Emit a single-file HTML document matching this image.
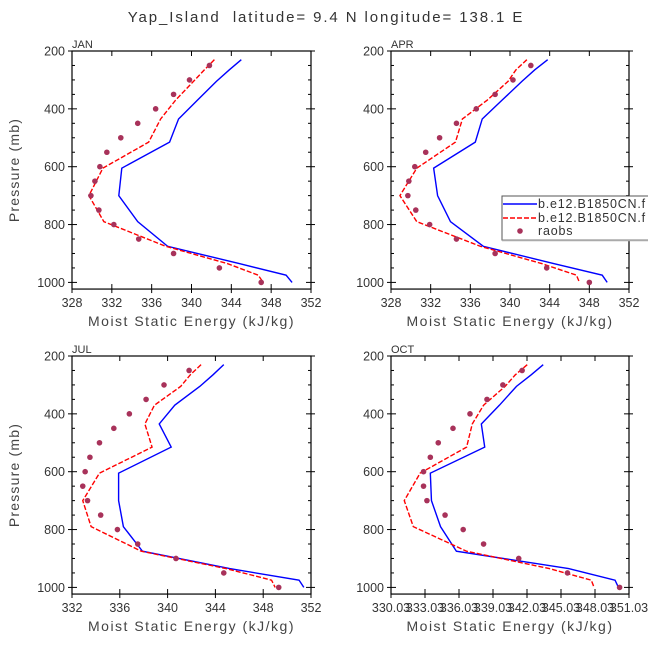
<!DOCTYPE html>
<html><head><meta charset="utf-8"><style>
body{margin:0;background:#fff;}
svg{display:block;font-family:"Liberation Sans",sans-serif;}
</style></head><body>
<svg id="chart" width="648" height="649">
<text x="326" y="22" text-anchor="middle" font-size="15" letter-spacing="1.9" fill="#333" style="white-space:pre">Yap_Island  latitude= 9.4 N longitude= 138.1 E</text>
</svg>
<script>
const modelLevels=[230,265,305,370,435,515,605,700,790,875,935,975,1000];
const obsLevels=[250,300,350,400,450,500,550,600,650,700,750,800,850,900,950,1000];
const yTicks=[200,400,600,800,1000];
const panelNames=["JAN","APR","JUL","OCT"];
const janModel1=[345.0,343.8,342.5,340.6,338.7,337.8,333.0,332.7,334.6,337.6,344.8,349.5,350.1];
const janModel2=[342.3,341.3,340.2,338.4,336.9,335.7,331.1,329.7,331.2,337.4,343.6,346.7,347.2];
const janObs=[341.8,339.8,338.2,336.4,334.6,332.9,331.5,330.8,330.3,329.9,330.7,332.2,334.7,338.2,342.8,347.0];
const aprModel1=[343.8,342.5,341.2,339.2,337.2,336.5,332.3,332.7,334.0,337.3,344.4,349.3,349.8];
const aprModel2=[341.7,340.6,339.8,337.7,335.2,334.5,330.6,328.9,330.6,337.0,343.2,346.7,347.0];
const aprObs=[342.1,340.3,338.5,336.6,334.6,332.9,331.5,330.4,329.8,329.7,330.5,331.9,334.6,338.5,343.7,348.0];
const julModel1=[344.7,343.8,342.7,340.6,339.3,340.3,335.9,335.9,336.3,337.9,345.2,351.0,351.4];
const julModel2=[342.8,341.9,341.1,338.9,338.1,338.7,334.3,332.9,333.6,337.8,344.9,348.7,349.0];
const julObs=[341.8,339.7,338.2,336.8,335.5,334.3,333.5,333.1,332.9,333.3,334.4,335.8,337.5,340.7,344.7,349.3];
const octModel1=[343.46,342.4,341.1,339.6,338.0,338.3,333.5,333.6,334.4,335.8,345.7,349.8,350.1];
const octModel2=[342.05,341.0,340.1,338.2,337.2,336.7,332.6,331.2,332.0,336.7,344.0,347.7,347.95];
const octObs=[341.6,339.9,338.5,337.0,335.5,334.2,333.5,332.9,332.9,333.2,334.8,336.4,338.2,341.3,345.6,350.2];
const janX=[328,332,336,340,344,348,352];
const aprX=[328,332,336,340,344,348,352];
const julX=[332,336,340,344,348,352];
const octX=[330.03,333.03,336.03,339.03,342.03,345.03,348.03,351.03];

const NS="http://www.w3.org/2000/svg";
const svg=document.getElementById("chart");
function mk(tag,attrs,parent){const e=document.createElementNS(NS,tag);for(const k in attrs)e.setAttribute(k,attrs[k]);(parent||svg).appendChild(e);return e;}

const panels=[
 {name:panelNames[0],L:72,R:311,T:51,m1:janModel1,m2:janModel2,ob:janObs,xt:janX,dec:0,yl:true},
 {name:panelNames[1],L:391,R:629,T:51,m1:aprModel1,m2:aprModel2,ob:aprObs,xt:aprX,dec:0,yl:false},
 {name:panelNames[2],L:72,R:311,T:356,m1:julModel1,m2:julModel2,ob:julObs,xt:julX,dec:0,yl:true},
 {name:panelNames[3],L:391,R:629,T:356,m1:octModel1,m2:octModel2,ob:octObs,xt:octX,dec:2,yl:false}
];
panels.forEach(p=>{
 const g=mk("g",{});
 
 
 const x0=p.xt[0],x1=p.xt[p.xt.length-1];
 const sx=v=>p.L+(v-x0)/(x1-x0)*(p.R-p.L);
 const py=0.28925;
 const sy=v=>p.T+(v-200)*py;
 const B=sy(1023);
 const fr=mk("rect",{x:p.L,y:p.T,width:p.R-p.L,height:B-p.T,fill:"none",stroke:"#000","stroke-width":1.2},g);
 
 
 const t=mk("text",{x:p.L,y:p.T-3,"font-size":11,fill:"#333"},g);t.textContent=p.name;
 
 
 for(let v=200;v<=1000;v+=50){
  const y=sy(v);const major=yTicks.includes(v);
  mk("line",{x1:p.L-(major?4:0),x2:p.L+(major?5:3),y1:y,y2:y,stroke:"#000"},g);
  mk("line",{x1:p.R+(major?4:0),x2:p.R-(major?5:3),y1:y,y2:y,stroke:"#000"},g);
 }
 yTicks.forEach(v=>{const tx=mk("text",{x:p.L-7,y:sy(v)+4.5,"text-anchor":"end","font-size":12.5,fill:"#333"},g);tx.textContent=v;
  
  });
 p.xt.forEach(v=>{const x=sx(v);
  mk("line",{x1:x,x2:x,y1:B-5,y2:B+4,stroke:"#000"},g);
  mk("line",{x1:x,x2:x,y1:p.T,y2:p.T+5,stroke:"#000"},g);
  const tx=mk("text",{x:x,y:B+18,"text-anchor":"middle","font-size":12.5,fill:"#333"},g);tx.textContent=v.toFixed(p.dec);
  
  });
 const xt=mk("text",{x:(p.L+p.R)/2,y:B+37,"text-anchor":"middle","font-size":14,"letter-spacing":1.5,fill:"#444"},g);xt.textContent="Moist Static Energy (kJ/kg)";
 
 
 if(p.yl){const yt=mk("text",{x:19,y:(p.T+B)/2,"text-anchor":"middle","font-size":14,"letter-spacing":1.2,fill:"#444",transform:"rotate(-90 19 "+((p.T+B)/2)+")"},g);yt.textContent="Pressure (mb)";
  
  }
 const l1=mk("polyline",{points:p.m1.map((v,i)=>sx(v)+","+sy(modelLevels[i])).join(" "),fill:"none",stroke:"#0000ff","stroke-width":1.4},g);
 
 
 const l2=mk("polyline",{points:p.m2.map((v,i)=>sx(v)+","+sy(modelLevels[i])).join(" "),fill:"none",stroke:"#ff0000","stroke-width":1.4,"stroke-dasharray":"5,2"},g);
 
 
 p.ob.forEach((v,i)=>{const c=mk("circle",{cx:sx(v),cy:sy(obsLevels[i]),r:2.8,fill:"#a8325a"},g);
  
  });
});
const lg=mk("g",{});


mk("rect",{x:502,y:196,width:160,height:44,fill:"#fff",stroke:"#555","stroke-width":1},lg);
mk("line",{x1:502,x2:660,y1:240.5,y2:240.5,stroke:"#aaa","stroke-width":1.5},lg);
mk("line",{x1:503,x2:537,y1:204,y2:204,stroke:"#0000ff","stroke-width":1.4},lg);
mk("line",{x1:503,x2:537,y1:218,y2:218,stroke:"#ff0000","stroke-width":1.4,"stroke-dasharray":"5,2"},lg);
mk("circle",{cx:520,cy:231,r:2.8,fill:"#a8325a"},lg);
[["b.e12.B1850CN.f",208],["b.e12.B1850CN.f",222],["raobs",235]].forEach((d,i)=>{const t=mk("text",{x:538,y:d[1],"font-size":12.5,"letter-spacing":0.8,fill:"#333"},lg);t.textContent=d[0];
 
 });
</script>
</body></html>
